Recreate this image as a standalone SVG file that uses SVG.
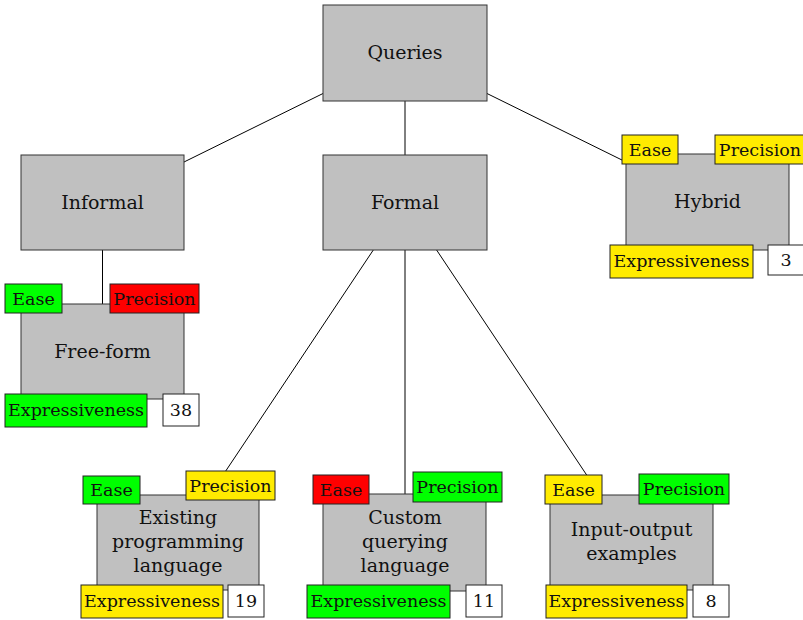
<svg xmlns="http://www.w3.org/2000/svg" width="803" height="620" viewBox="0 0 803 620">
  <style>
    text { font-family: "DejaVu Serif", "Liberation Serif", serif; font-size: 19px; fill: #111; text-anchor: middle; dominant-baseline: central; }
    text.t { font-size: 17.5px; }
    .box { fill: #c0c0c0; stroke: #333; stroke-width: 1; }
    .tag { stroke: #222; stroke-width: 1; }
    .g { fill: #00ff00; }
    .r { fill: #ff0000; }
    .y { fill: #ffeb00; }
    .w { fill: #ffffff; }
    .edge { stroke: #000; stroke-width: 1; fill: none; }
  </style>
  <rect width="803" height="620" fill="#ffffff"/>

  <!-- connectors -->
  <g id="connectors">
    <line class="edge" x1="323" y1="93.5" x2="184" y2="162"/>
    <line class="edge" x1="405" y1="101" x2="405" y2="155"/>
    <line class="edge" x1="487" y1="93.5" x2="626" y2="162"/>
    <line class="edge" x1="102.5" y1="250" x2="102.5" y2="304"/>
    <line class="edge" x1="373.3" y1="250" x2="209.7" y2="495"/>
    <line class="edge" x1="405" y1="250" x2="405" y2="494"/>
    <line class="edge" x1="436.6" y1="250" x2="600" y2="495"/>
  </g>

  <g id="queries">
    <rect class="box" x="323" y="5" width="164" height="96"/>
    <text x="405" y="52">Queries</text>
  </g>

  <g id="informal">
    <rect class="box" x="21" y="155" width="163" height="95"/>
    <text x="102.5" y="202">Informal</text>
  </g>

  <g id="formal">
    <rect class="box" x="323" y="155" width="164" height="95"/>
    <text x="405" y="202">Formal</text>
  </g>

  <g id="hybrid">
    <rect class="box" x="626" y="154" width="163" height="96"/>
    <text x="707.5" y="201">Hybrid</text>
    <rect class="tag y" x="622" y="135" width="56" height="29"/>
    <text class="t" x="650" y="149.5">Ease</text>
    <rect class="tag y" x="715" y="135" width="90" height="29"/>
    <text class="t" x="760" y="149.5">Precision</text>
    <rect class="tag y" x="610" y="245" width="143" height="33"/>
    <text class="t" x="681.5" y="261">Expressiveness</text>
    <rect class="tag w" x="768" y="245" width="37" height="30"/>
    <text class="t" x="786" y="260">3</text>
  </g>

  <g id="free-form">
    <rect class="box" x="21" y="304" width="163" height="95"/>
    <text x="102.5" y="351">Free-form</text>
    <rect class="tag g" x="5" y="284" width="57" height="29"/>
    <text class="t" x="33.5" y="298.5">Ease</text>
    <rect class="tag r" x="110" y="284" width="89" height="29"/>
    <text class="t" x="154.5" y="298.5">Precision</text>
    <rect class="tag g" x="5" y="394" width="142" height="33"/>
    <text class="t" x="76" y="410">Expressiveness</text>
    <rect class="tag w" x="163" y="394" width="36" height="32"/>
    <text class="t" x="181" y="409.5">38</text>
  </g>

  <g id="existing-language">
    <rect class="box" x="97" y="495" width="162" height="95"/>
    <text x="178" y="517">Existing</text>
    <text x="178" y="541">programming</text>
    <text x="178" y="565">language</text>
    <rect class="tag g" x="83" y="476" width="57" height="28"/>
    <text class="t" x="111.5" y="490">Ease</text>
    <rect class="tag y" x="186" y="471" width="89" height="29"/>
    <text class="t" x="230.5" y="486">Precision</text>
    <rect class="tag y" x="81" y="585" width="142" height="33"/>
    <text class="t" x="152" y="601">Expressiveness</text>
    <rect class="tag w" x="228" y="585" width="36" height="32"/>
    <text class="t" x="246" y="601">19</text>
  </g>

  <g id="custom-language">
    <rect class="box" x="323" y="494" width="163" height="97"/>
    <text x="405" y="517">Custom</text>
    <text x="405" y="541">querying</text>
    <text x="405" y="565">language</text>
    <rect class="tag r" x="313" y="475" width="56" height="29"/>
    <text class="t" x="341" y="490">Ease</text>
    <rect class="tag g" x="413" y="472" width="89" height="30"/>
    <text class="t" x="457.5" y="487">Precision</text>
    <rect class="tag g" x="307" y="585" width="143" height="33"/>
    <text class="t" x="378.5" y="601">Expressiveness</text>
    <rect class="tag w" x="466" y="585" width="36" height="32"/>
    <text class="t" x="484" y="601">11</text>
  </g>

  <g id="input-output">
    <rect class="box" x="550" y="495" width="163" height="95"/>
    <text x="631.5" y="529">Input-output</text>
    <text x="631.5" y="553">examples</text>
    <rect class="tag y" x="545" y="475" width="57" height="29"/>
    <text class="t" x="573.5" y="490">Ease</text>
    <rect class="tag g" x="639" y="474" width="90" height="30"/>
    <text class="t" x="684" y="489">Precision</text>
    <rect class="tag y" x="546" y="585" width="141" height="33"/>
    <text class="t" x="616.5" y="601">Expressiveness</text>
    <rect class="tag w" x="693" y="585" width="36" height="32"/>
    <text class="t" x="711" y="601">8</text>
  </g>
</svg>
